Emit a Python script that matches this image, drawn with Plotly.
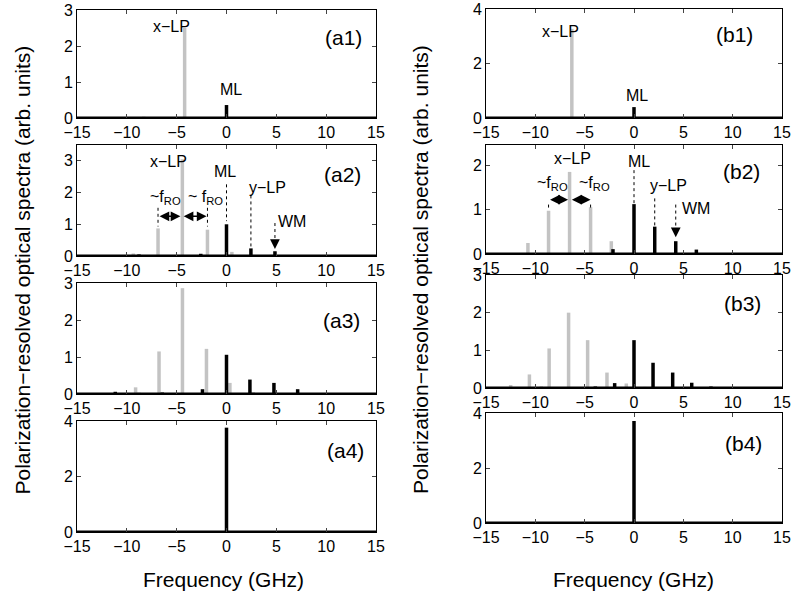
import plotly.graph_objects as go

# ---------------- data (frequency in GHz, height in arb. units) ----------------
a1_gray_f = [-4.2]
a1_gray_h = [2.50]
a1_black_f = [-8.3, 0.0]
a1_black_h = [0.03, 0.36]

a2_gray_f = [-9.35, -6.87, -4.43, -1.91, 0.54, 4.5]
a2_gray_h = [0.08, 0.87, 3.05, 0.83, 0.13, 0.04]
a2_black_f = [-11.13, -8.78, -6.27, -2.58, 0.0, 2.45, 4.86, 7.48]
a2_black_h = [0.03, 0.05, 0.03, 0.07, 1.0, 0.24, 0.15, 0.03]

a3_gray_f = [-9.12, -6.77, -4.42, -2.01, 0.34, 2.68]
a3_gray_h = [0.18, 1.15, 2.86, 1.22, 0.30, 0.05]
a3_black_f = [-13.6, -11.16, -8.78, -6.44, -4.02, -2.41, 0.0, 2.35, 4.76, 7.14, 9.55]
a3_black_h = [0.01, 0.06, 0.03, 0.04, 0.02, 0.13, 1.06, 0.39, 0.30, 0.13, 0.02]

a4_black_f = [0.0]
a4_black_h = [3.76]

b1_gray_f = [-6.3]
b1_gray_h = [3.27]
b1_black_f = [-12.5, 0.0]
b1_black_h = [0.02, 0.40]

b2_gray_f = [-10.75, -8.66, -6.53, -4.4, -2.3, 8.5]
b2_gray_h = [0.25, 0.98, 1.86, 1.06, 0.29, 0.01]
b2_black_f = [-12.95, -10.9, -2.13, 0.0, 2.1, 4.23, 6.32]
b2_black_h = [0.02, 0.02, 0.11, 1.13, 0.62, 0.29, 0.10]

b3_gray_f = [-12.5, -10.6, -8.6, -6.63, -4.7, -2.74, -0.78, 1.1, 9.6]
b3_gray_h = [0.08, 0.36, 1.05, 2.0, 1.27, 0.41, 0.12, 0.03, 0.01]
b3_black_f = [-11.36, -9.4, -3.92, -1.96, 0.0, 1.93, 3.92, 5.85, 7.8]
b3_black_h = [0.02, 0.03, 0.04, 0.13, 1.27, 0.67, 0.41, 0.14, 0.04]

b4_black_f = [0.0]
b4_black_h = [3.71]

x_ticks = [-15, -10, -5, 0, 5, 10, 15]
x_range = [-15, 15]

panels = [
    # name, gray f, gray h, black f, black h, y range, y ticks
    ("(a1)", a1_gray_f, a1_gray_h, a1_black_f, a1_black_h, [0, 3], [0, 1, 2, 3]),
    ("(a2)", a2_gray_f, a2_gray_h, a2_black_f, a2_black_h, [0, 3.5], [0, 1, 2, 3]),
    ("(a3)", a3_gray_f, a3_gray_h, a3_black_f, a3_black_h, [0, 3], [0, 1, 2, 3]),
    ("(a4)", [], [], a4_black_f, a4_black_h, [0, 4], [0, 2, 4]),
    ("(b1)", b1_gray_f, b1_gray_h, b1_black_f, b1_black_h, [0, 4], [0, 2, 4]),
    ("(b2)", b2_gray_f, b2_gray_h, b2_black_f, b2_black_h, [0, 2.47], [0, 1, 2]),
    ("(b3)", b3_gray_f, b3_gray_h, b3_black_f, b3_black_h, [0, 3], [0, 1, 2, 3]),
    ("(b4)", [], [], b4_black_f, b4_black_h, [0, 4], [0, 2, 4]),
]

# ---------------- layout geometry ----------------
W, H = 791, 594
left_x = [77 / W, 376 / W]
right_x = [486 / W, 782 / W]
def ydom(top, bot):
    return [1 - bot / H, 1 - top / H]
ydoms = [ydom(10, 118), ydom(145, 256), ydom(283, 394), ydom(421, 532),
         ydom(9, 118), ydom(145, 254), ydom(275, 388), ydom(413, 523)]

FONT = "Liberation Sans, Arial, Helvetica, sans-serif"
GRAY = "#c3c3c3"

def stems(fs, hs):
    xs, ys = [], []
    for f, h in zip(fs, hs):
        xs += [f, f, None]
        ys += [0, h, None]
    return xs, ys

fig = go.Figure()
layout = dict(
    width=W, height=H, margin=dict(l=0, r=0, t=0, b=0, autoexpand=False),
    paper_bgcolor="white", plot_bgcolor="white", showlegend=False,
    font=dict(family=FONT, color="black", size=15),
    template="none",
)
annotations = []
shapes = []

for i, (name, gf, gh, bf, bh, yr, yt) in enumerate(panels):
    n = i + 1
    xa = "x" if n == 1 else f"x{n}"
    ya = "y" if n == 1 else f"y{n}"
    gx, gy = stems(gf, gh)
    if gx:
        fig.add_trace(go.Scatter(x=gx, y=gy, mode="lines", xaxis=xa, yaxis=ya,
                                 line=dict(color=GRAY, width=3.5), hoverinfo="skip"))
    fig.add_trace(go.Scatter(x=x_range, y=[0, 0], mode="lines", xaxis=xa, yaxis=ya,
                             line=dict(color="black", width=3), hoverinfo="skip"))
    bx, by = stems(bf, bh)
    fig.add_trace(go.Scatter(x=bx, y=by, mode="lines", xaxis=xa, yaxis=ya,
                             line=dict(color="black", width=3.5), hoverinfo="skip"))
    axkey = "xaxis" if n == 1 else f"xaxis{n}"
    aykey = "yaxis" if n == 1 else f"yaxis{n}"
    layout[axkey] = dict(domain=left_x if n <= 4 else right_x, anchor=ya,
                         range=x_range, tickvals=x_ticks, ticks="inside", ticklen=4,
                         showline=True, mirror="ticks", linecolor="black", linewidth=1,
                         showgrid=False, zeroline=False, automargin=False,
                         tickfont=dict(size=16, family=FONT, color="black"),
                         fixedrange=True)
    layout[aykey] = dict(domain=ydoms[i], anchor=xa, range=yr, tickvals=yt,
                         ticks="inside", ticklen=4, showline=True, mirror="ticks",
                         linecolor="black", linewidth=1, showgrid=False, zeroline=False,
                         automargin=False,
                         tickfont=dict(size=16, family=FONT, color="black"), fixedrange=True)

def txt(n, x, y, s, size=16):
    xa = "x" if n == 1 else f"x{n}"
    ya = "y" if n == 1 else f"y{n}"
    annotations.append(dict(x=x, y=y, xref=xa, yref=ya, text=s, showarrow=False,
                            xanchor="center", yanchor="middle",
                            font=dict(size=size, family=FONT, color="black")))

def dotted(n, x, y0, y1):
    xa = "x" if n == 1 else f"x{n}"
    ya = "y" if n == 1 else f"y{n}"
    shapes.append(dict(type="line", xref=xa, yref=ya, x0=x, x1=x, y0=y0, y1=y1,
                       line=dict(color="black", width=1, dash="dot")))

def arrow(n, x0, y0, x1, y1, both=False):
    xa = "x" if n == 1 else f"x{n}"
    ya = "y" if n == 1 else f"y{n}"
    annotations.append(dict(x=x1, y=y1, ax=x0, ay=y0, xref=xa, yref=ya, axref=xa, ayref=ya,
                            text="", showarrow=True, arrowhead=2, arrowsize=1.3,
                            arrowwidth=1.5, arrowcolor="black", standoff=0, startstandoff=0,
                            startarrowhead=2, startarrowsize=1.3,
                            arrowside="end+start" if both else "end"))

# panel labels
txt(1, 11.7, 2.25, "(a1)", 21)
txt(2, 11.6, 2.58, "(a2)", 21)
txt(3, 11.5, 2.0, "(a3)", 21)
txt(4, 11.9, 2.94, "(a4)", 21)
txt(5, 10.2, 3.06, "(b1)", 21)
txt(6, 10.9, 1.86, "(b2)", 21)
txt(7, 10.96, 2.24, "(b3)", 21)
txt(8, 11.1, 2.89, "(b4)", 21)

# (a1)
txt(1, -5.5, 2.55, "x\u2212LP")
txt(1, 0.5, 0.8, "ML")
# (a2)
txt(2, -5.8, 2.97, "x\u2212LP")
txt(2, -6.1, 1.83, "~f<sub>RO</sub>")
txt(2, -2.1, 1.83, "~ f<sub>RO</sub>")
txt(2, -0.17, 2.68, "ML")
txt(2, 4.1, 2.15, "y\u2212LP")
txt(2, 6.6, 1.09, "WM")
dotted(2, -6.87, 1.52, 0.93)
dotted(2, -1.91, 1.52, 0.93)
dotted(2, 0.0, 2.26, 1.1)
dotted(2, 2.45, 1.91, 0.3)
dotted(2, 4.86, 1.04, 0.5)
arrow(2, -6.87, 1.25, -4.62, 1.25, both=True)
arrow(2, -4.45, 1.25, -2.0, 1.25, both=True)
arrow(2, 4.86, 0.5, 4.86, 0.22)
# (b1)
txt(5, -7.5, 3.18, "x\u2212LP")
txt(5, 0.34, 0.82, "ML")
# (b2)
txt(6, -6.2, 2.17, "x\u2212LP")
txt(6, -8.3, 1.6, "~f<sub>RO</sub>")
txt(6, -4.0, 1.6, "~f<sub>RO</sub>")
txt(6, 0.5, 2.09, "ML")
txt(6, 3.45, 1.56, "y\u2212LP")
txt(6, 6.3, 1.04, "WM")
dotted(6, -8.66, 1.12, 1.0)
dotted(6, -4.4, 1.12, 1.0)
dotted(6, 0.0, 1.9, 1.15)
dotted(6, 2.1, 1.26, 0.64)
dotted(6, 4.23, 1.12, 0.6)
arrow(6, -8.66, 1.23, -6.68, 1.23, both=True)
arrow(6, -6.45, 1.23, -4.4, 1.23, both=True)
arrow(6, 4.23, 0.6, 4.23, 0.38)

# axis titles
ylab = "Polarization\u2212resolved optical spectra (arb. units)"
for xc in [21.5, 420]:
    annotations.append(dict(x=xc / W, y=1 - 270 / H, xref="paper", yref="paper",
                            xanchor="center", yanchor="middle",
                            text=ylab, textangle=-90, showarrow=False,
                            font=dict(size=21, family=FONT, color="black")))
for xc in [223, 633]:
    annotations.append(dict(x=xc / W, y=1 - 579 / H, xref="paper", yref="paper",
                            xanchor="center", yanchor="middle",
                            text="Frequency (GHz)", showarrow=False,
                            font=dict(size=21, family=FONT, color="black")))

layout["annotations"] = annotations
layout["shapes"] = shapes
fig.update_layout(**layout)
fig.write_html("out.html", config={"displayModeBar": False},
               post_script="document.body.style.margin='0';document.body.style.padding='0';")
